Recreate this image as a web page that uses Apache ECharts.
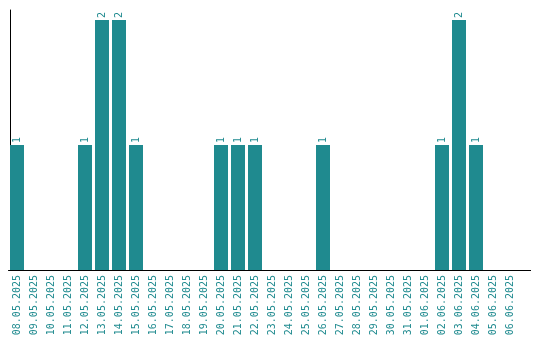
<!DOCTYPE html>
<html>
<head>
<meta charset="utf-8">
<script src="https://cdn.jsdelivr.net/npm/echarts@6/dist/echarts.min.js"></script>
<style>html,body{margin:0;padding:0;background:#fff}#c{width:540px;height:340px}</style>
</head>
<body>
<div id="c"></div>
<script>
const categories = ["08.05.2025","09.05.2025","10.05.2025","11.05.2025","12.05.2025","13.05.2025","14.05.2025","15.05.2025","16.05.2025","17.05.2025","18.05.2025","19.05.2025","20.05.2025","21.05.2025","22.05.2025","23.05.2025","24.05.2025","25.05.2025","26.05.2025","27.05.2025","28.05.2025","29.05.2025","30.05.2025","31.05.2025","01.06.2025","02.06.2025","03.06.2025","04.06.2025","05.06.2025","06.06.2025"];
const counts = [1,0,0,0,1,2,2,1,0,0,0,0,1,1,1,0,0,0,1,0,0,0,0,0,0,1,2,1,0,0];

const teal = '#1f8a8f';
const font = 'DejaVu Sans Mono';
const chart = echarts.init(document.getElementById('c'), null, {renderer:'canvas'});
chart.setOption({
  animation: false,
  grid: {left: 8.5, top: 10, width: 510, height: 260, containLabel: false},
  xAxis: {
    type: 'category',
    data: categories,
    axisLine: {show: true, lineStyle: {color: '#000', width: 1}},
    axisTick: {show: false},
    axisLabel: {rotate: 90, color: teal, fontFamily: font, fontSize: 10, margin: 5, interval: 0}
  },
  yAxis: {
    type: 'value', min: 0, max: 2.08, offset: -1.5,
    axisLine: {show: true, lineStyle: {color: '#000', width: 1}},
    axisTick: {show: false}, axisLabel: {show: false}, splitLine: {show: false}
  },
  graphic: [{
    type: 'line', shape: {x1: 518, y1: 270.5, x2: 531, y2: 270.5},
    style: {stroke: '#000', lineWidth: 1}, silent: true
  }],
  series: [{
    type: 'bar',
    data: counts.map(v => v === 0 ? null : v),
    barWidth: 14,
    itemStyle: {color: teal},
    label: {
      show: true, position: 'top', rotate: 90, distance: 2,
      align: 'left', verticalAlign: 'middle',
      color: teal, fontFamily: font, fontSize: 10
    }
  }]
});
</script>
</body>
</html>
